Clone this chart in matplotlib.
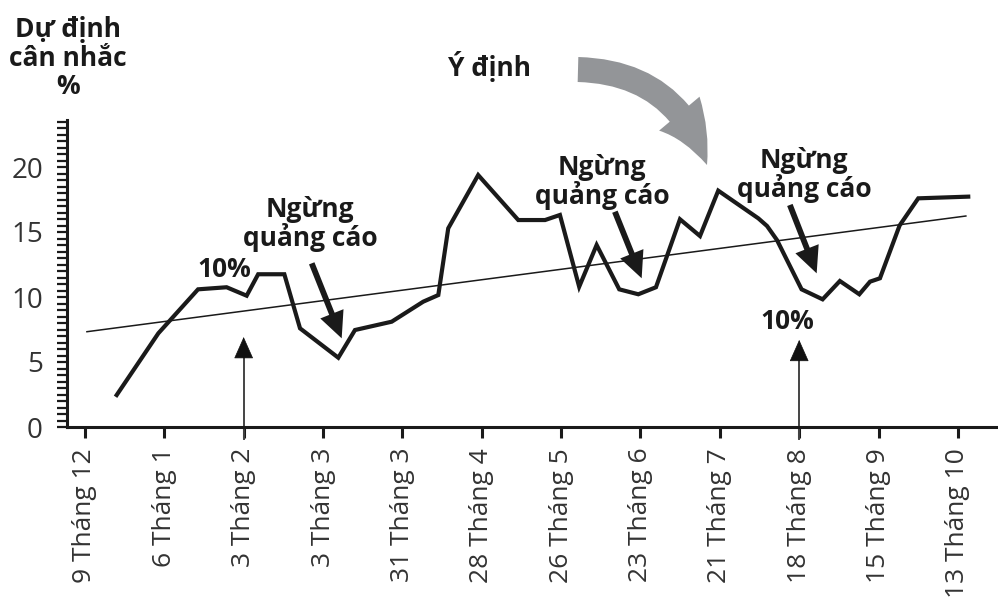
import matplotlib
matplotlib.use('Agg')
import matplotlib.pyplot as plt
from matplotlib.patches import FancyArrowPatch
import numpy as np

plt.rcParams['font.family'] = ['Open Sans', 'DejaVu Sans']

# weeks counted from 9 Tháng 12, values in %
weeks = [1.6, 3.7, 5.7, 7.14, 8.15, 8.73, 10.05, 10.84, 12.77, 13.61, 15.46,
         17.05, 17.81, 18.31, 19.82, 21.84, 23.19, 23.94, 24.91, 25.79, 26.93,
         27.89, 28.78, 29.99, 31.0, 31.92, 33.94, 34.38, 34.88, 35.38, 36.12,
         37.18, 38.05, 39.03, 39.57, 40.07, 41.06, 42.0, 44.52]
values = [2.46, 7.21, 10.59, 10.75, 10.1, 11.75, 11.75, 7.59, 5.33, 7.46, 8.1,
          9.64, 10.15, 15.28, 19.38, 15.92, 15.92, 16.31, 10.79, 14.0, 10.59,
          10.21, 10.75, 15.98, 14.69, 18.18, 16.05, 15.46, 14.38, 12.85, 10.59,
          9.82, 11.23, 10.21, 11.18, 11.44, 15.5, 17.59, 17.72]

trend_weeks = [0.1, 44.4]
trend_values = [7.33, 16.23]

tick_weeks = [0, 4, 8, 12, 16, 20, 24, 28, 32, 36, 40, 44]
tick_labels = ['9 Tháng 12', '6 Tháng 1', '3 Tháng 2', '3 Tháng 3', '31 Tháng 3',
               '28 Tháng 4', '26 Tháng 5', '23 Tháng 6', '21 Tháng 7',
               '18 Tháng 8', '15 Tháng 9', '13 Tháng 10']

W, H = 998, 603
fig = plt.figure(figsize=(W / 100, H / 100), dpi=100)
ax = fig.add_axes([66.5 / W, (H - 427) / H, 1 - 66.5 / W, 306.8 / H])

ax.plot(weeks, values, color='#1a1a1a', lw=3.0, solid_joinstyle='miter', zorder=3)
ax.plot(trend_weeks, trend_values, color='#1a1a1a', lw=1.1, zorder=2)

ax.set_xlim(-0.93, 46.02)
ax.set_ylim(0, 23.6)

for s in ['top', 'right']:
    ax.spines[s].set_visible(False)
ax.spines['left'].set_linewidth(2.2)
ax.spines['bottom'].set_linewidth(2.2)
ax.spines['left'].set_color('#1a1a1a')
ax.spines['bottom'].set_color('#1a1a1a')

ax.set_xticks(tick_weeks)
ax.set_xticklabels(tick_labels, rotation=90, fontsize=19, color='#333333')
ax.tick_params(axis='x', length=8, width=2.2, pad=7, color='#1a1a1a')
ax.set_yticks([0, 5, 10, 15, 20])
ax.set_yticks(np.arange(0, 23.6, 0.5), minor=True)
ax.tick_params(axis='y', which='both', length=7, width=1.6, pad=10,
               labelsize=20, labelcolor='#333333', color='#1a1a1a')

bold = dict(fontsize=19, fontweight='bold', color='#1a1a1a', ha='center',
            va='center', linespacing=1.0)

# "Ngừng quảng cáo" notes with their thick arrows
notes = [((11.34, 15.6), (11.43, 12.59), (12.94, 6.82)),
         ((26.06, 18.85), (26.71, 16.56), (28.06, 11.44)),
         ((36.24, 19.4), (35.53, 17.08), (36.88, 11.82))]
for txt_pos, start, tip in notes:
    ax.text(txt_pos[0], txt_pos[1], 'Ngừng\nquảng cáo', **bold)
    ax.annotate('', xy=tip, xytext=start,
                arrowprops=dict(arrowstyle='simple,head_length=1.9,head_width=1.8,tail_width=0.42',
                                mutation_scale=10, fc='#1a1a1a', ec='none',
                                shrinkA=0, shrinkB=0))

ax.text(7.03, 12.15, '10%', **bold)
ax.text(35.41, 8.15, '10%', **bold)

# thin arrows up from the axis
for wk, top in [(8, 6.92), (36, 6.7)]:
    ax.plot([wk, wk], [-0.9, top - 1.2], color='#444444', lw=1.4,
            clip_on=False, zorder=2)
    ax.annotate('', xy=(wk, top), xytext=(wk, top - 1.6),
                arrowprops=dict(arrowstyle='-|>,head_length=0.72,head_width=0.32',
                                mutation_scale=20, lw=0.5, color='#111111',
                                shrinkA=0, shrinkB=0))

fig.text(68 / W, 1 - 58 / H, 'Dự định\ncân nhắc\n%', fontsize=19,
         fontweight='bold', color='#1a1a1a', ha='center', va='center',
         linespacing=1.05)
fig.text(489 / W, 1 - 66 / H, 'Ý định', fontsize=19, fontweight='bold',
         color='#1a1a1a', ha='center', va='center')

big = FancyArrowPatch((578 / W, 1 - 69.5 / H), (707 / W, 1 - 165 / H),
                      transform=fig.transFigure,
                      connectionstyle='arc3,rad=-0.35',
                      arrowstyle='simple,head_length=42,head_width=38,tail_width=18',
                      mutation_scale=1, fc='#939598', ec='none',
                      shrinkA=0, shrinkB=0)
fig.add_artist(big)

fig.savefig('out.png', dpi=100)
